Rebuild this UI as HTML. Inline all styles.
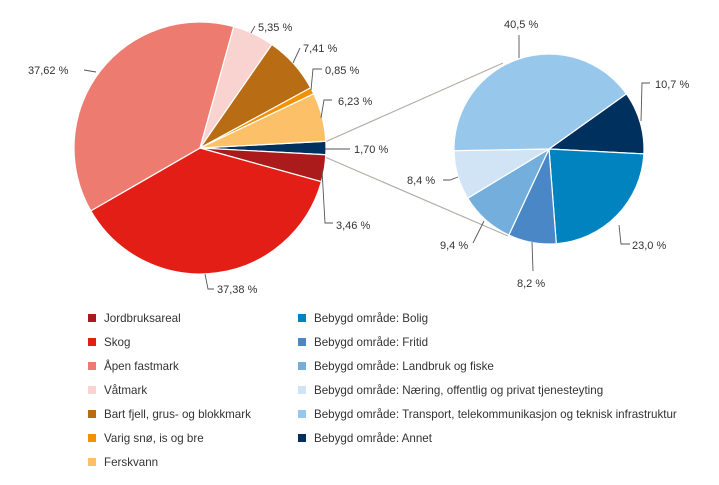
<!DOCTYPE html>
<html><head><meta charset="utf-8"><style>
body{margin:0;background:#fff;font-family:"Liberation Sans",sans-serif}
svg{display:block}
text{font-size:11px;fill:#333;font-family:"Liberation Sans",sans-serif}
text.lg{font-size:11.6px}
</style></head><body>
<svg id="c" width="719" height="485"></svg>
<script>
const mainLabels=["Bebygd område","Jordbruksareal","Skog","Åpen fastmark","Våtmark","Bart fjell, grus- og blokkmark","Varig snø, is og bre","Ferskvann"];
const mainValues=[1.70,3.46,37.38,37.62,5.35,7.41,0.85,6.23];
const mainText=["1,70 %","3,46 %","37,38 %","37,62 %","5,35 %","7,41 %","0,85 %","6,23 %"];
const mainColors=["#00305e","#ab1b1c","#e31e16","#ee7b6f","#f8d3d0","#b86d15","#f39200","#fcc068"];
const subLabels=["Annet","Bolig","Fritid","Landbruk og fiske","Næring, offentlig og privat tjenesteyting","Transport, telekommunikasjon og teknisk infrastruktur"];
const subValues=[10.7,23.0,8.2,9.4,8.4,40.5];
const subText=["10,7  %","23,0  %","8,2  %","9,4  %","8,4  %","40,5  %"];
const subColors=["#00305e","#0083bf","#4a87c7","#74aedd","#d0e4f5","#97c8ec"];
const legendLeft=["Jordbruksareal","Skog","Åpen fastmark","Våtmark","Bart fjell, grus- og blokkmark","Varig snø, is og bre","Ferskvann"];
const legendLeftColors=["#ab1b1c","#e31e16","#ee7b6f","#f8d3d0","#b86d15","#f39200","#fcc068"];
const legendRight=["Bebygd område: Bolig","Bebygd område: Fritid","Bebygd område: Landbruk og fiske","Bebygd område: Næring, offentlig og privat tjenesteyting","Bebygd område: Transport, telekommunikasjon og teknisk infrastruktur","Bebygd område: Annet"];
const legendRightColors=["#0083bf","#4a87c7","#74aedd","#d0e4f5","#97c8ec","#00305e"];

const NS="http://www.w3.org/2000/svg",svg=document.getElementById('c');
function el(t,a,p){const e=document.createElementNS(NS,t);for(const k in a)e.setAttribute(k,a[k]);(p||svg).appendChild(e);return e;}
function pt(cx,cy,r,deg){const a=deg*Math.PI/180;return [cx+r*Math.cos(a),cy+r*Math.sin(a)];}
function pie(cx,cy,r,vals,cols,names,start,prefix){
  const tot=vals.reduce((a,b)=>a+b,0);let a=start;const mids=[];
  vals.forEach((v,i)=>{const sw=v/tot*360;const p1=pt(cx,cy,r,a),p2=pt(cx,cy,r,a+sw);
    const s=el('path',{d:`M${cx},${cy}L${p1[0]},${p1[1]}A${r},${r} 0 ${sw>180?1:0} 1 ${p2[0]},${p2[1]}Z`,fill:cols[i],stroke:'#fff','stroke-width':1.2});
    
    
    mids.push(a+sw/2);a+=sw;});
  return mids;
}
el('line',{x1:325,y1:142,x2:503,y2:63,stroke:'#b3aea9','stroke-width':1.2});
el('line',{x1:325,y1:157,x2:508,y2:236,stroke:'#b3aea9','stroke-width':1.2});
const mainStart=-(mainValues[0]/mainValues.reduce((a,b)=>a+b,0))*180;
pie(200,148,126,mainValues,mainColors,mainLabels,mainStart,'main');
pie(549,149,95,subValues,subColors,subLabels,-35.5,'built');
const mainLines=["325,149 350,149","322,170 325,223 333,223","205,274 208,289 214,289","96,72 84,70","251,33 255,26","293,63 300,48","311,90 313,69 322,69","321,118 324,100 332,100"];
const mainPos=[[354,153,'start'],[336,229,'start'],[217,293,'start'],[28,74,'start'],[258,31,'start'],[303,52,'start'],[325,74,'start'],[338,105,'start']];
mainValues.forEach((v,i)=>{
  const l=el('polyline',{points:mainLines[i],fill:'none',stroke:'#555','stroke-width':0.9});
  
  
  const t=el('text',{x:mainPos[i][0],y:mainPos[i][1],'text-anchor':mainPos[i][2]});t.textContent=mainText[i];
  
  
});
const subLines=["641,121 642,83 650,83","619,225 621,244 630,244","532,242 533,271","484,221 473,243","458,177 450,180 443,180","519,58 519,35"];
const subPos=[[655,88],[632,249],[517,287],[440,249],[407,184],[504,28]];
subValues.forEach((v,i)=>{
  const l=el('polyline',{points:subLines[i],fill:'none',stroke:'#555','stroke-width':0.9});
  
  
  const t=el('text',{x:subPos[i][0],y:subPos[i][1]});t.textContent=subText[i];
  
  
});
function legend(items,cols,x){items.forEach((s,i)=>{const y=318+i*24;
  const g=el('g',{});
  
  
  el('rect',{x:x,y:y-4,width:8,height:8,fill:cols[i]},g);
  const t=el('text',{x:x+16,y:y+4,class:'lg'},g);t.textContent=s;});}
legend(legendLeft,legendLeftColors,88);
legend(legendRight,legendRightColors,298);
</script>
</body></html>
